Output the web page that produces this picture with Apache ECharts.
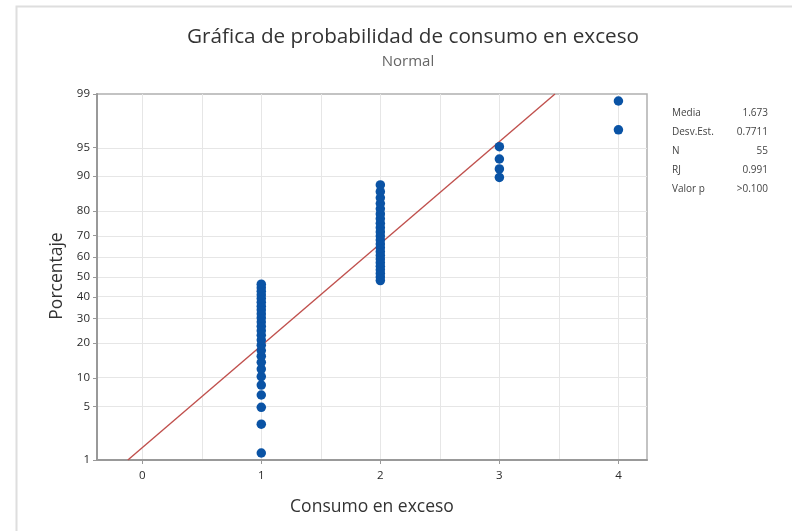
<!DOCTYPE html>
<html>
<head>
<meta charset="utf-8">
<script src="https://cdn.jsdelivr.net/npm/echarts@6/dist/echarts.min.js"></script>
<style>
  html, body { margin: 0; padding: 0; background: #fff; }
  #chart { width: 792px; height: 531px; }
</style>
</head>
<body>
<div id="chart"></div>
<script>
// Observed values of "Consumo en exceso", sorted ascending (N = 55)
const consumo = [
  1,1,1,1,1,1,1,1,1,1,1,1,1,1,1,1,1,1,1,1,1,1,1,1,1,1,
  2,2,2,2,2,2,2,2,2,2,2,2,2,2,2,2,2,2,2,2,2,2,2,
  3,3,3,3,
  4,4
];
const xTicks = [0, 1, 2, 3, 4];
const xGridLines = [0, 0.5, 1, 1.5, 2, 2.5, 3, 3.5, 4];
const pctTicks = [1, 5, 10, 20, 30, 40, 50, 60, 70, 80, 90, 95, 99];
const statLabels = ['Media', 'Desv.Est.', 'N', 'RJ', 'Valor p'];
const statValues = ['1.673', '0.7711', '55', '0.991', '>0.100'];
const media = 1.673;
const desvEst = 0.7711;

// Inverse of the standard normal CDF (Acklam's rational approximation)
function normInv(p) {
  const a = [-3.969683028665376e+01, 2.209460984245205e+02, -2.759285104469687e+02,
             1.383577518672690e+02, -3.066479806614716e+01, 2.506628277459239e+00];
  const b = [-5.447609879822406e+01, 1.615858368580409e+02, -1.556989798598866e+02,
             6.680131188771972e+01, -1.328068155288572e+01];
  const c = [-7.784894002430293e-03, -3.223964580411365e-01, -2.400758277161838e+00,
             -2.549732539343734e+00, 4.374664141464968e+00, 2.938163982698783e+00];
  const d = [7.784695709041462e-03, 3.224671290700398e-01, 2.445134137142996e+00,
             3.754408661907416e+00];
  const pl = 0.02425, ph = 1 - pl;
  let q, r;
  if (p < pl) {
    q = Math.sqrt(-2 * Math.log(p));
    return (((((c[0]*q+c[1])*q+c[2])*q+c[3])*q+c[4])*q+c[5]) /
           ((((d[0]*q+d[1])*q+d[2])*q+d[3])*q+1);
  }
  if (p <= ph) {
    q = p - 0.5; r = q * q;
    return (((((a[0]*r+a[1])*r+a[2])*r+a[3])*r+a[4])*r+a[5])*q /
           (((((b[0]*r+b[1])*r+b[2])*r+b[3])*r+b[4])*r+1);
  }
  q = Math.sqrt(-2 * Math.log(1 - p));
  return -(((((c[0]*q+c[1])*q+c[2])*q+c[3])*q+c[4])*q+c[5]) /
          ((((d[0]*q+d[1])*q+d[2])*q+d[3])*q+1);
}

// Probability axis works in normal-score units; labels show percent
const n = consumo.length;
const zMin = normInv(0.01);
const zMax = normInv(0.99);
const zTicks = pctTicks.map(p => normInv(p / 100));

// Median-rank plotting positions (Benard)
const puntos = consumo.map((v, i) => [v, normInv((i + 1 - 0.3) / (n + 0.4))]);

// Fitted normal line: x = media + desvEst * z
const ajuste = [[media + desvEst * zMin, zMin], [media + desvEst * zMax, zMax]];

const FONT = '"Open Sans", "Noto Sans", sans-serif';
const gridColor = '#e6e6e6';

const chart = echarts.init(document.getElementById('chart'), null, { renderer: 'canvas' });

const statGraphics = [];
statLabels.forEach((lab, i) => {
  const y = 113 + i * 19;
  statGraphics.push({
    type: 'text', x: 672, y: y,
    style: { text: lab, font: '10px ' + FONT, fill: '#444', textAlign: 'left', textVerticalAlign: 'middle' }
  });
  statGraphics.push({
    type: 'text', x: 768, y: y,
    style: { text: statValues[i], font: '10px ' + FONT, fill: '#444', textAlign: 'right', textVerticalAlign: 'middle' }
  });
});

chart.setOption({
  backgroundColor: '#fff',
  animation: false,
  grid: {
    left: 97, top: 94, right: 145, bottom: 71,
    show: true, borderColor: '#b0b0b0', borderWidth: 1.5, backgroundColor: 'transparent'
  },
  xAxis: {
    type: 'value',
    min: -0.38, max: 4.24,
    axisLine: { show: true, onZero: false, lineStyle: { color: '#999', width: 2 } },
    axisTick: { show: true, length: 4, lineStyle: { color: '#999' }, customValues: xTicks },
    axisLabel: { show: true, customValues: xTicks, margin: 10, fontSize: 11.5, color: '#2a2a2a', fontFamily: FONT },
    splitLine: { show: false }
  },
  yAxis: {
    type: 'value',
    min: zMin, max: zMax,
    axisLine: { show: true, onZero: false, lineStyle: { color: '#999', width: 2 } },
    axisTick: { show: true, length: 4, lineStyle: { color: '#999' }, customValues: zTicks },
    axisLabel: {
      show: true, customValues: zTicks, margin: 7, fontSize: 11.5, color: '#2a2a2a', fontFamily: FONT,
      formatter: function (val) {
        let best = 0, bd = Infinity;
        zTicks.forEach((z, i) => { const dd = Math.abs(z - val); if (dd < bd) { bd = dd; best = i; } });
        return String(pctTicks[best]);
      }
    },
    splitLine: { show: false }
  },
  graphic: [
    {
      type: 'rect', shape: { x: 16.5, y: 6.5, width: 900, height: 700 },
      style: { fill: 'none', stroke: '#dedede', lineWidth: 2 }, silent: true
    },
    {
      type: 'text', x: 413, y: 37,
      style: { text: 'Gráfica de probabilidad de consumo en exceso', font: '20.7px ' + FONT, fill: '#333',
               textAlign: 'center', textVerticalAlign: 'middle' }
    },
    {
      type: 'text', x: 408, y: 62,
      style: { text: 'Normal', font: '15px ' + FONT, fill: '#666', textAlign: 'center', textVerticalAlign: 'middle' }
    },
    {
      type: 'text', x: 57, y: 276, rotation: Math.PI / 2,
      style: { text: 'Porcentaje', font: '17.5px ' + FONT, fill: '#333', textAlign: 'center', textVerticalAlign: 'middle' }
    },
    {
      type: 'text', x: 372, y: 507,
      style: { text: 'Consumo en exceso', font: '17.5px ' + FONT, fill: '#333', textAlign: 'center', textVerticalAlign: 'middle' }
    }
  ].concat(statGraphics),
  series: [
    {
      // reference grid drawn beneath the data
      type: 'line', data: [], z: 0, silent: true,
      markLine: {
        z: 0, silent: true, symbol: 'none', animation: false,
        label: { show: false },
        lineStyle: { color: gridColor, width: 1, type: 'solid' },
        emphasis: { disabled: true },
        data: zTicks.map(z => ({ yAxis: z })).concat(xGridLines.map(x => ({ xAxis: x })))
      }
    },
    {
      type: 'line', data: ajuste, z: 2, silent: true,
      showSymbol: false, symbol: 'none',
      lineStyle: { color: '#c0504d', width: 1.4 }
    },
    {
      type: 'scatter', data: puntos, z: 3, silent: true,
      symbol: 'circle', symbolSize: 9.5,
      itemStyle: { color: '#0a53a5', opacity: 1, borderWidth: 0 }
    }
  ]
});
</script>
</body>
</html>
